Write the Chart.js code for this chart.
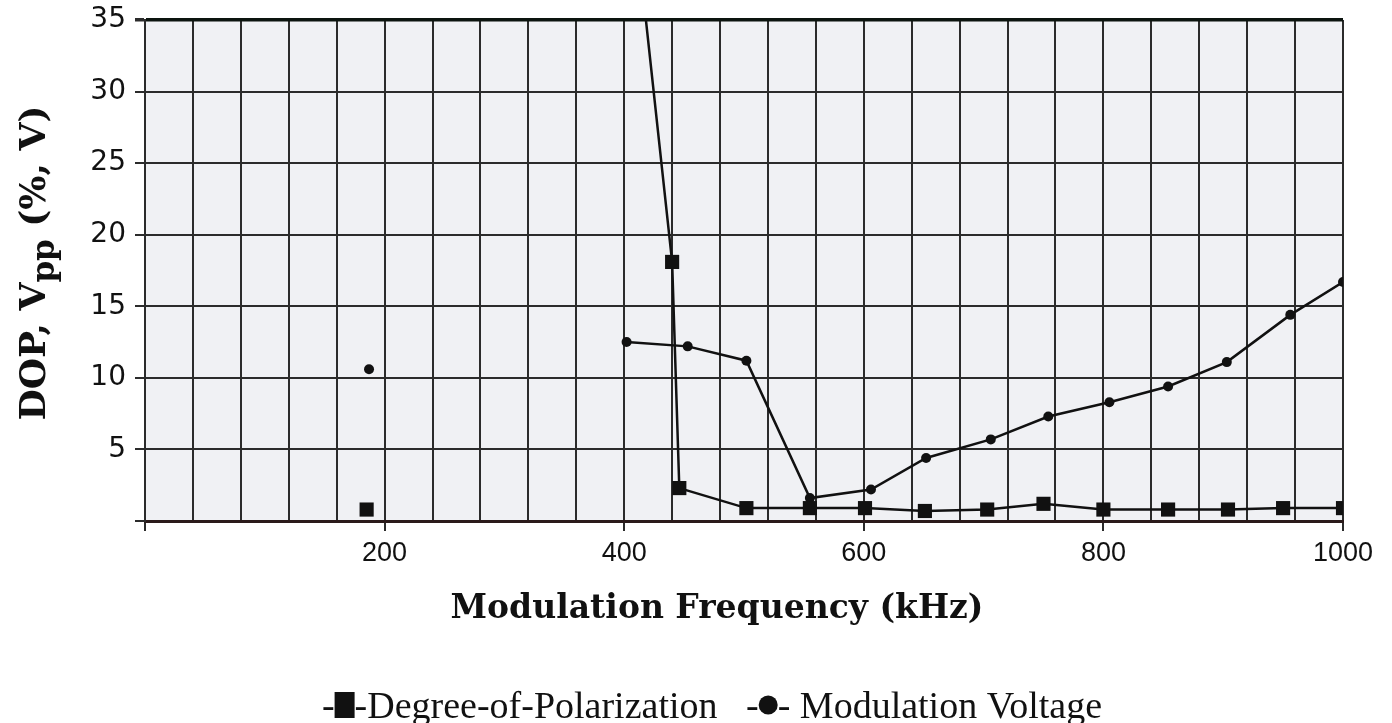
<!DOCTYPE html>
<html>
<head>
<meta charset="utf-8">
<script src="https://cdn.jsdelivr.net/npm/chart.js@4.4.0/dist/chart.umd.min.js"></script>
<style>
  html, body { margin: 0; padding: 0; background: #fff; }
  canvas { display: block; }
</style>
</head>
<body>
<canvas id="dopChart" width="1392" height="723"></canvas>
<script>
// Degree-of-polarization (squares); null breaks the line after the lone 185 kHz point
const dopFreq  = [185, 300, 400, 440, 446, 502, 555, 601, 651, 703, 750, 800, 854, 904, 950, 1000];
const dopValue = [0.8, null, 49, 18.1, 2.3, 0.9, 0.9, 0.9, 0.7, 0.8, 1.2, 0.8, 0.8, 0.8, 0.9, 0.9];

// Modulation voltage Vpp (circles)
const mvFreq  = [187, 300, 402, 453, 502, 555, 606, 652, 706, 754, 805, 854, 903, 956, 1000];
const mvValue = [10.6, null, 12.5, 12.2, 11.2, 1.6, 2.2, 4.4, 5.7, 7.3, 8.3, 9.4, 11.1, 14.4, 16.7];

const xLabels = [200, 400, 600, 800, 1000];
const yLabels = [5, 10, 15, 20, 25, 30, 35];

const xTitle = "Modulation Frequency (kHz)";
const legendNames = ["Degree-of-Polarization", "Modulation Voltage"];

const toPoints = (xs, ys) => xs.map((x, i) => ({ x: x, y: ys[i] }));

const ink = "#111";
const gridInk = "#2b2b2b";

// plot background + text that the library can't lay out (subscript title, glyph legend)
const decor = {
  id: "decor",
  beforeDraw(chart) {
    const { ctx, chartArea: a } = chart;
    ctx.save();
    ctx.fillStyle = "#f0f1f4";
    ctx.fillRect(a.left, a.top, a.right - a.left, a.bottom - a.top);
    ctx.restore();
  },
  afterDraw(chart) {
    const ctx = chart.ctx;
    ctx.save();
    ctx.fillStyle = ink;

    // x title
    ctx.font = "bold 33px 'DejaVu Serif', serif";
    ctx.textAlign = "center";
    ctx.textBaseline = "middle";
    ctx.fillText(xTitle, 717, 609);

    // y title with subscript pp
    ctx.translate(36, 263);
    ctx.rotate(-Math.PI / 2);
    ctx.textAlign = "left";
    ctx.textBaseline = "middle";
    const big = "bold 36px 'DejaVu Serif', serif";
    const small = "bold 31px 'DejaVu Serif', serif";
    ctx.font = big;
    const w1 = ctx.measureText("DOP, V").width;
    const w3 = ctx.measureText(" (%, V)").width;
    ctx.font = small;
    const w2 = ctx.measureText("pp").width;
    let x = -(w1 + w2 + w3) / 2;
    ctx.font = big;
    ctx.fillText("DOP, V", x, 0);
    x += w1;
    ctx.font = small;
    ctx.fillText("pp", x, 10);
    x += w2;
    ctx.font = big;
    ctx.fillText(" (%, V)", x, 0);
    ctx.setTransform(1, 0, 0, 1, 0, 0);

    // legend
    ctx.font = "38px 'Liberation Serif', 'Times New Roman', serif";
    ctx.textBaseline = "alphabetic";
    ctx.textAlign = "left";
    const base = 718;
    const dash = ctx.measureText("-").width;
    const part1 = "-" + legendNames[0];
    const part2 = "- " + legendNames[1];
    const gap = ctx.measureText("   ").width;
    const sq = 20, dot = 19;
    const total = dash + sq + ctx.measureText(part1).width + gap + dash + dot + ctx.measureText(part2).width;
    let lx = 712 - total / 2;
    ctx.fillText("-", lx, base); lx += dash;
    ctx.fillRect(lx, base - 26, sq, 26); lx += sq;
    ctx.fillText(part1, lx, base); lx += ctx.measureText(part1).width + gap;
    ctx.fillText("-", lx, base); lx += dash;
    ctx.beginPath();
    ctx.arc(lx + dot / 2, base - 13, dot / 2, 0, Math.PI * 2);
    ctx.fill();
    lx += dot;
    ctx.fillText(part2, lx, base);
    ctx.restore();
  }
};

const ctx = document.getElementById("dopChart").getContext("2d");

const dopChart = new Chart(ctx, {
  type: "line",
  data: {
    datasets: [
      {
        label: legendNames[0],
        data: toPoints(dopFreq, dopValue),
        borderColor: ink,
        backgroundColor: ink,
        borderWidth: 2.5,
        pointStyle: "rect",
        pointRadius: 10,
        pointBorderWidth: 0,
        spanGaps: false,
        tension: 0,
      },
      {
        label: legendNames[1],
        data: toPoints(mvFreq, mvValue),
        borderColor: ink,
        backgroundColor: ink,
        borderWidth: 2.5,
        pointStyle: "circle",
        pointRadius: 5,
        pointBorderWidth: 0,
        spanGaps: false,
        tension: 0,
      },
    ],
  },
  options: {
    responsive: false,
    animation: false,
    devicePixelRatio: 1,
    layout: {
      padding: { top: 20, right: 49, left: 0, bottom: 0 },
    },
    scales: {
      x: {
        type: "linear",
        min: 0,
        max: 1000,
        afterFit: (s) => { s.height = 202; s.paddingRight = 0; s.paddingLeft = 0; },
        ticks: {
          stepSize: 40,
          autoSkip: false,
          maxRotation: 0,
          padding: 6,
          color: ink,
          font: { family: "'Liberation Sans Narrow', 'Arial Narrow', 'Liberation Sans', Arial", size: 27 },
          callback: (v) => (xLabels.includes(v) ? String(v) : ""),
        },
        grid: {
          color: gridInk,
          lineWidth: 2,
          tickLength: 10,
          tickColor: (c) => (c.tick && c.tick.value % 200 === 0 ? gridInk : "rgba(0,0,0,0)"),
        },
        border: { display: true, color: "#2a1a1a", width: 3 },
      },
      y: {
        min: 0,
        max: 35,
        afterFit: (s) => { s.width = 145; s.paddingTop = 0; s.paddingBottom = 0; },
        ticks: {
          stepSize: 5,
          padding: 9,
          color: ink,
          font: { family: "'DejaVu Sans', 'Liberation Sans', Arial", size: 28 },
          callback: (v) => (yLabels.includes(v) ? String(v) : ""),
        },
        grid: {
          color: (c) => (c.tick && c.tick.value === 35 ? "#0c140f" : gridInk),
          lineWidth: (c) => (c.tick && c.tick.value === 35 ? 3.5 : 2),
          tickLength: 10,
          tickColor: gridInk,
        },
        border: { display: true, color: gridInk, width: 2 },
      },
    },
    plugins: {
      legend: { display: false },
      tooltip: { enabled: false },
      title: { display: false },
    },
  },
  plugins: [decor],
});
</script>
</body>
</html>
